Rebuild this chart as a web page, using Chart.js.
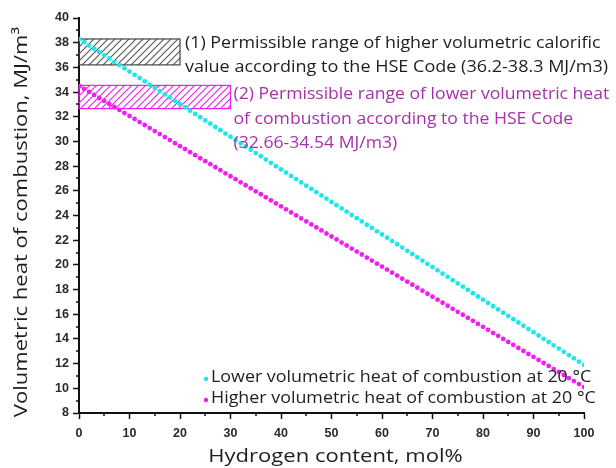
<!DOCTYPE html>
<html><head><meta charset="utf-8">
<script src="https://cdn.jsdelivr.net/npm/chart.js@4/dist/chart.umd.min.js"></script>
<style>html,body{margin:0;padding:0;background:#fff}#wrap{width:616px;height:468px}</style>
</head><body><div id="wrap"><canvas id="c" width="616" height="468"></canvas></div>
<script>
// ---- data ----
const hydrogen = [0,1,2,3,4,5,6,7,8,9,10,11,12,13,14,15,16,17,18,19,20,21,22,23,24,25,26,27,28,29,30,31,32,33,34,35,36,37,38,39,40,41,42,43,44,45,46,47,48,49,50,51,52,53,54,55,56,57,58,59,60,61,62,63,64,65,66,67,68,69,70,71,72,73,74,75,76,77,78,79,80,81,82,83,84,85,86,87,88,89,90,91,92,93,94,95,96,97,98,99,100];
const cyanSeries = [38.30,38.04,37.77,37.51,37.24,36.98,36.72,36.45,36.19,35.92,35.66,35.40,35.13,34.87,34.60,34.34,34.08,33.81,33.55,33.28,33.02,32.76,32.49,32.23,31.96,31.70,31.44,31.17,30.91,30.64,30.38,30.12,29.85,29.59,29.32,29.06,28.80,28.53,28.27,28.00,27.74,27.48,27.21,26.95,26.68,26.42,26.16,25.89,25.63,25.36,25.10,24.84,24.57,24.31,24.04,23.78,23.52,23.25,22.99,22.72,22.46,22.20,21.93,21.67,21.40,21.14,20.88,20.61,20.35,20.08,19.82,19.56,19.29,19.03,18.76,18.50,18.24,17.97,17.71,17.44,17.18,16.92,16.65,16.39,16.12,15.86,15.60,15.33,15.07,14.80,14.54,14.28,14.01,13.75,13.48,13.22,12.96,12.69,12.43,12.16,11.90];
const magentaSeries = [34.50,34.26,34.01,33.77,33.52,33.28,33.04,32.79,32.55,32.30,32.06,31.82,31.57,31.33,31.08,30.84,30.60,30.35,30.11,29.86,29.62,29.38,29.13,28.89,28.64,28.40,28.16,27.91,27.67,27.42,27.18,26.94,26.69,26.45,26.20,25.96,25.72,25.47,25.23,24.98,24.74,24.50,24.25,24.01,23.76,23.52,23.28,23.03,22.79,22.54,22.30,22.06,21.81,21.57,21.32,21.08,20.84,20.59,20.35,20.10,19.86,19.62,19.37,19.13,18.88,18.64,18.40,18.15,17.91,17.66,17.42,17.18,16.93,16.69,16.44,16.20,15.96,15.71,15.47,15.22,14.98,14.74,14.49,14.25,14.00,13.76,13.52,13.27,13.03,12.78,12.54,12.30,12.05,11.81,11.56,11.32,11.08,10.83,10.59,10.34,10.10];
const seriesNames = ["Lower volumetric heat of combustion at 20 °C","Higher volumetric heat of combustion at 20 °C"];
const rangeLow = [36.2, 32.66];
const rangeHigh = [38.3, 34.54];
const rangeXEnd = [20, 30];
const rangeText = [
  ["(1) Permissible range of higher volumetric calorific","value according to the HSE Code (36.2-38.3 MJ/m3)"],
  ["(2) Permissible range of lower volumetric heat","of combustion according to the HSE Code","(32.66-34.54 MJ/m3)"]
];
const yMinorTicks = [9,11,13,15,17,19,21,23,25,27,29,31,33,35,37,39];
const xMinorTicks = [5,15,25,35,45,55,65,75,85,95];
const xTitle = "Hydrogen content, mol%";
const yTitle = "Volumetric heat of combustion, MJ/m³";

// ---- styles ----
const CYAN = '#1fe6ea', MAG = '#f01ef0', MAGTXT = '#a830ac', TXT = '#1e1e1e';
const TXTFONT = '"Open Sans", "Noto Sans", sans-serif';

function hatchPattern(ctx, color){
  const s = 7, c = document.createElement('canvas'); c.width = s; c.height = s;
  const g = c.getContext('2d'); g.strokeStyle = color; g.lineWidth = 1.1;
  g.beginPath(); g.moveTo(0, s); g.lineTo(s, 0);
  g.moveTo(-1, 1); g.lineTo(1, -1); g.moveTo(s-1, s+1); g.lineTo(s+1, s-1); g.stroke();
  return ctx.createPattern(c, 'repeat');
}
function stretchText(ctx, t, x, y, sx){
  ctx.save(); ctx.translate(x, y); ctx.scale(sx, 1); ctx.fillText(t, 0, 0); ctx.restore();
}

const deco = {
  id: 'deco',
  beforeDatasetsDraw(chart){
    const {ctx, scales:{x, y}} = chart;
    const cols = [['#555','#444'], [MAG, MAG]];
    ctx.save();
    for (let i = 0; i < rangeLow.length; i++){
      const x0 = x.getPixelForValue(0), x1 = x.getPixelForValue(rangeXEnd[i]);
      const y0 = y.getPixelForValue(rangeHigh[i]), y1 = y.getPixelForValue(rangeLow[i]);
      ctx.fillStyle = hatchPattern(ctx, cols[i][0]);
      ctx.fillRect(x0, y0, x1 - x0, y1 - y0);
      ctx.strokeStyle = cols[i][1]; ctx.lineWidth = 1.2;
      ctx.strokeRect(x0, y0, x1 - x0, y1 - y0);
    }
    ctx.restore();
  },
  afterDraw(chart){
    const {ctx, scales:{x, y}, chartArea:a} = chart;
    ctx.save();
    // minor ticks
    ctx.strokeStyle = '#111'; ctx.lineWidth = 1.5;
    ctx.beginPath();
    yMinorTicks.forEach(v => { const p = Math.round(y.getPixelForValue(v)); ctx.moveTo(a.left, p); ctx.lineTo(a.left - 3, p); });
    xMinorTicks.forEach(v => { const p = Math.round(x.getPixelForValue(v)); ctx.moveTo(p, a.bottom); ctx.lineTo(p, a.bottom + 3); });
    ctx.stroke();
    // annotation texts
    ctx.textBaseline = 'middle'; ctx.textAlign = 'left';
    ctx.font = '17px ' + TXTFONT;
    ctx.fillStyle = TXT;
    const x1 = x.getPixelForValue(rangeXEnd[0]) + 5;
    const yb1 = y.getPixelForValue(rangeHigh[0]);
    stretchText(ctx, rangeText[0][0], x1, yb1 + 4, 1.05);
    stretchText(ctx, rangeText[0][1], x1, yb1 + 28, 1.06);
    ctx.fillStyle = MAGTXT;
    const x2 = x.getPixelForValue(rangeXEnd[1]) + 3;
    const yb2 = y.getPixelForValue(rangeHigh[1]) + 9;
    rangeText[1].forEach((t, i) => stretchText(ctx, t, x2, yb2 + i * 24.5, 1.035));
    // legend
    const lx = 211, ly = [377, 398], lc = [CYAN, MAG];
    for (let i = 0; i < 2; i++){
      ctx.fillStyle = lc[i]; ctx.beginPath(); ctx.arc(lx - 5, ly[i] + 2, 2.2, 0, Math.PI*2); ctx.fill();
      ctx.fillStyle = TXT; stretchText(ctx, seriesNames[i], lx, ly[i], 1.05);
    }
    // axis titles
    ctx.font = '19px ' + TXTFONT; ctx.textAlign = 'center'; ctx.fillStyle = TXT;
    ctx.save(); ctx.translate((a.left + a.right)/2 + 4, 457); ctx.scale(1.16, 1); ctx.fillText(xTitle, 0, 0); ctx.restore();
    ctx.save(); ctx.translate(22, 222); ctx.rotate(-Math.PI/2); ctx.scale(1.16, 1);
    ctx.fillText(yTitle, 0, 0); ctx.restore();
    ctx.restore();
  }
};

const pts = s => hydrogen.map((h, i) => ({x: h, y: s[i]}));
const tickFont = { family: '"Liberation Sans", Arial, sans-serif', size: 12.5, weight: 'bold' };

new Chart(document.getElementById('c'), {
  type: 'scatter',
  data: { datasets: [
    { label: seriesNames[0], data: pts(cyanSeries), backgroundColor: CYAN, borderWidth: 0, pointRadius: 2.4, pointStyle: 'circle' },
    { label: seriesNames[1], data: pts(magentaSeries), backgroundColor: MAG, borderWidth: 0, pointRadius: 2.4, pointStyle: 'circle' }
  ]},
  options: {
    responsive: false, animation: false, devicePixelRatio: 1,
    layout: { padding: { left: 0, right: 32, top: 18, bottom: 0 } },
    plugins: { legend: { display: false }, tooltip: { enabled: false } },
    scales: {
      x: {
        type: 'linear', min: 0, max: 100,
        ticks: { stepSize: 10, color: '#2a2a2a', padding: 7, maxRotation: 0, font: tickFont },
        grid: { drawOnChartArea: false, drawTicks: true, tickLength: 6, tickColor: '#111', tickWidth: 1.5 },
        border: { display: true, color: '#111', width: 2 },
        afterFit(s){ s.height = 55; }
      },
      y: {
        type: 'linear', min: 8, max: 40,
        ticks: { stepSize: 2, color: '#2a2a2a', padding: 4, font: tickFont },
        grid: { drawOnChartArea: false, drawTicks: true, tickLength: 6, tickColor: '#111', tickWidth: 1.5 },
        border: { display: true, color: '#111', width: 2 },
        afterFit(s){ s.width = 79; }
      }
    }
  },
  plugins: [deco]
});
</script></body></html>
